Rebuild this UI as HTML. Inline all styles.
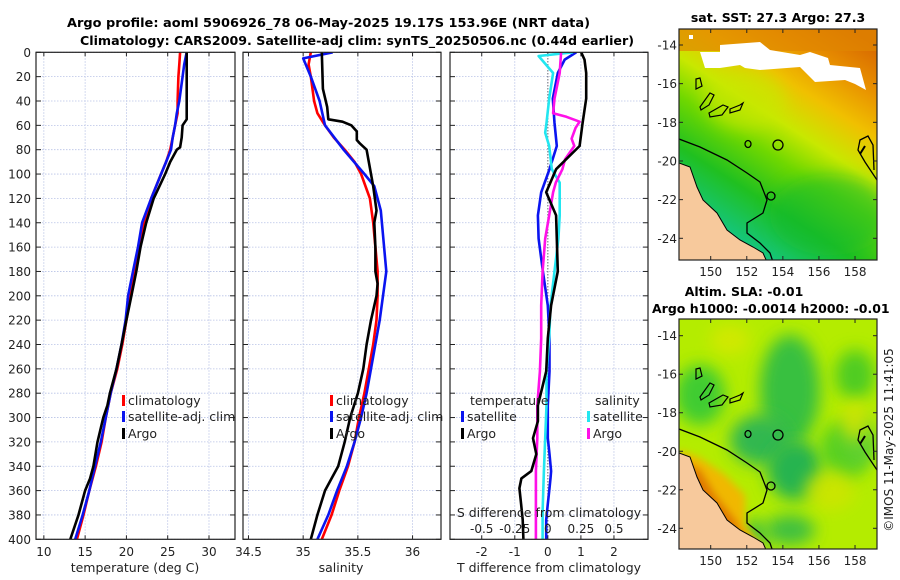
<!DOCTYPE html>
<html><head><meta charset="utf-8"><style>
html,body{margin:0;padding:0;background:#fff;}
svg{display:block;font-family:"DejaVu Sans","Liberation Sans",sans-serif;}
</style></head><body>
<svg id="fig" width="900" height="580" viewBox="0 0 900 580" xmlns="http://www.w3.org/2000/svg">
<defs>
 <linearGradient id="sstg" x1="0.85" y1="0" x2="0.3" y2="1">
  <stop offset="0" stop-color="#d86a00"/>
  <stop offset="0.15" stop-color="#e89000"/>
  <stop offset="0.3" stop-color="#f0c000"/>
  <stop offset="0.45" stop-color="#c8e800"/>
  <stop offset="0.58" stop-color="#70d800"/>
  <stop offset="0.75" stop-color="#20c020"/>
  <stop offset="1" stop-color="#10c8a0"/>
 </linearGradient>
 <filter id="blur8" x="-50%" y="-50%" width="200%" height="200%"><feGaussianBlur stdDeviation="8"/></filter>
 <filter id="blur4" x="-50%" y="-50%" width="200%" height="200%"><feGaussianBlur stdDeviation="4"/></filter>
 <clipPath id="c1"><rect x="679" y="29" width="198" height="231"/></clipPath>
 <clipPath id="c2"><rect x="679" y="319" width="198" height="230"/></clipPath>
 <clipPath id="p1"><rect x="36" y="52" width="199" height="487"/></clipPath>
 <clipPath id="p2"><rect x="243" y="52" width="198" height="487"/></clipPath>
 <clipPath id="p3"><rect x="450" y="52" width="198" height="487"/></clipPath>
</defs>
<text x="67" y="27" textLength="523" lengthAdjust="spacingAndGlyphs" font-size="12.5" font-weight="bold">Argo profile: aoml 5906926_78 06-May-2025 19.17S 153.96E (NRT data)</text>
<text x="80" y="45" textLength="554" lengthAdjust="spacingAndGlyphs" font-size="12.5" font-weight="bold">Climatology: CARS2009. Satellite-adj clim: synTS_20250506.nc (0.44d earlier)</text>
<g id="panels"></g>
<g id="maps"></g>
<text transform="translate(893,440) rotate(-90)" text-anchor="middle" font-size="12" fill="#222">©IMOS 11-May-2025 11:41:05</text>
</svg>
<script>
// ---- data (depth m) ----
const depths = [0,10,20,40,50,60,70,80,90,100,120,140,160,180,200,220,240,260,280,300,320,340,360,380,400];
const tempClim = [26.5,26.4,26.3,26.2,26.2,25.9,25.6,25.3,24.8,24.2,23.0,22.1,21.6,21.0,20.5,20.0,19.5,18.9,18.1,17.5,17.0,16.3,15.5,14.8,14.0];
const tempSat  = [27.3,27.0,26.8,26.4,26.1,25.9,25.6,25.4,24.8,24.2,23.0,21.9,21.4,20.8,20.2,19.9,19.4,18.8,18.1,17.5,16.9,16.2,15.5,14.7,13.8];
const argoDepths = [0,20,40,55,60,70,78,80,90,100,120,140,160,180,200,220,240,260,280,290,300,320,340,350,360,380,400];
const tempArgo = [27.3,27.3,27.3,27.3,26.8,26.7,26.5,26.1,25.3,24.7,23.3,22.4,21.7,21.2,20.6,20.0,19.4,18.8,18.0,17.7,17.2,16.5,16.0,15.6,15.0,14.2,13.2];
const salClim = [35.07,35.05,35.07,35.10,35.13,35.20,35.28,35.38,35.47,35.53,35.61,35.64,35.66,35.68,35.68,35.67,35.64,35.60,35.56,35.51,35.47,35.41,35.33,35.26,35.17];
const salSatDepths = [0,5,20,40,60,80,100,110,130,160,180,200,220,260,280,300,320,340,360,380,400];
const salSat = [35.27,35.00,35.07,35.15,35.20,35.37,35.56,35.65,35.71,35.74,35.76,35.73,35.70,35.62,35.58,35.53,35.47,35.40,35.31,35.23,35.13];
const salArgoDepths = [0,30,45,55,57,60,65,72,75,80,90,100,110,130,140,160,180,190,200,220,240,260,280,300,320,340,350,360,380,400];
const salArgo = [35.17,35.18,35.22,35.23,35.36,35.44,35.49,35.49,35.52,35.58,35.60,35.62,35.64,35.67,35.65,35.66,35.66,35.68,35.67,35.62,35.58,35.55,35.50,35.43,35.38,35.32,35.26,35.20,35.13,35.07];
const diffDepths = [0,6,17,38,58,77,96,115,134,153,180,208,235,262,290,303,317,330,344,350,358,371,384,400];
const tDiffSat  = [0.86,0.51,0.30,0.15,0.20,0.27,0.05,-0.20,-0.30,-0.28,-0.15,0.00,0.05,0.05,0.00,0.00,0.00,0.05,0.10,0.08,0.05,0.00,-0.05,-0.05];
const tDiffArgo = [1.01,1.11,1.16,1.16,1.05,0.96,0.25,-0.05,0.25,0.27,0.30,0.10,0.00,-0.05,-0.30,-0.30,-0.45,-0.35,-0.50,-0.80,-0.86,-0.81,-0.76,-0.74];
const sDiffDepthsSat = [0,3,17,38,58,66,77,96,107,115,134,153,180,208,235,262,290,317,344,377,400];
const sDiffSat = [0.19,-0.07,0.04,0.01,-0.01,-0.02,0.01,0.03,0.09,0.09,0.09,0.08,0.05,0.02,0.01,-0.01,-0.01,-0.02,-0.03,-0.04,-0.04];
const sDiffArgoDepths = [0,17,38,50,53,57,62,71,77,88,96,107,115,134,153,180,208,235,262,290,317,344,377,400];
const sDiffArgo = [0.10,0.09,0.05,0.04,0.14,0.24,0.21,0.18,0.20,0.13,0.11,0.06,0.04,0.01,-0.02,-0.04,-0.05,-0.05,-0.06,-0.08,-0.08,-0.09,-0.09,-0.09];
const depthTicks = [0,20,40,60,80,100,120,140,160,180,200,220,240,260,280,300,320,340,360,380,400];
const tempTicks = [10,15,20,25,30];
const salTicks = [34.5,35,35.5,36];
const tDiffTicks = [-2,-1,0,1,2];
const sDiffTicks = [-0.5,-0.25,0,0.25,0.5];

const NS='http://www.w3.org/2000/svg';
const gP=document.getElementById('panels');
function el(tag,attrs,parent,txt){const e=document.createElementNS(NS,tag);for(const k in attrs)e.setAttribute(k,attrs[k]);if(txt!==undefined)e.textContent=txt;(parent||gP).appendChild(e);return e;}
const TOP=52.3,BOT=539.3;
const yD=d=>TOP+(d/400)*(BOT-TOP);
const panels=[
 {x0:36,x1:235,lo:9.05,hi:33.15,ticks:tempTicks,fmt:v=>String(v),name:'temperature-panel'},
 {x0:243,x1:441,lo:34.45,hi:36.26,ticks:salTicks,fmt:v=>String(v),name:'salinity-panel'},
 {x0:450,x1:648,lo:-2.96,hi:3.03,ticks:tDiffTicks,fmt:v=>String(v),name:'difference-panel'}
];
panels.forEach((p,i)=>{p.sx=v=>p.x0+(v-p.lo)/(p.hi-p.lo)*(p.x1-p.x0);});
function line(ds,vs,sx,color,clip,name,w){
 const pts=ds.map((d,i)=>sx(vs[i]).toFixed(1)+','+yD(d).toFixed(1)).join(' ');
 const e=el('polyline',{points:pts,fill:'none',stroke:color,'stroke-width':w||2.6,'stroke-linejoin':'round','clip-path':'url(#'+clip+')'});
 
 
}
panels.forEach((p,i)=>{
 const g=el('g',{});
 
 
 el('rect',{x:p.x0,y:TOP,width:p.x1-p.x0,height:BOT-TOP,fill:'#fff'},g);
 p.ticks.forEach(t=>{const x=p.sx(t);
  el('line',{x1:x,x2:x,y1:TOP,y2:BOT,stroke:'#b8c2e6','stroke-width':0.8,'stroke-dasharray':'1.5,1.5'},g);
  el('line',{x1:x,x2:x,y1:BOT,y2:BOT-4,stroke:'#222'},g);
  el('line',{x1:x,x2:x,y1:TOP,y2:TOP+4,stroke:'#222'},g);
  const lt=el('text',{x:x,y:556,'text-anchor':'middle','font-size':12,fill:'#222'},g,p.fmt(t));
  
  
 });
 depthTicks.forEach(d=>{const y=yD(d);
  el('line',{x1:p.x0,x2:p.x1,y1:y,y2:y,stroke:'#b8c2e6','stroke-width':0.8,'stroke-dasharray':'1.5,1.5'},g);
  el('line',{x1:p.x0,x2:p.x0+5,y1:y,y2:y,stroke:'#222'},g);
  el('line',{x1:p.x1,x2:p.x1-5,y1:y,y2:y,stroke:'#222'},g);
  if(i===0){const lt=el('text',{x:31,y:y+4.5,'text-anchor':'end','font-size':12,fill:'#222'},g,String(d));
   
   }
 });
});
const P1=panels[0],P2=panels[1],P3=panels[2];
line(depths,tempClim,P1.sx,'#ff0000','p1','temp-climatology-line');
line(depths,tempSat,P1.sx,'#0a14f0','p1','temp-satellite-line');
line(argoDepths,tempArgo,P1.sx,'#000','p1','temp-argo-line');
line(depths,salClim,P2.sx,'#ff0000','p2','sal-climatology-line');
line(salSatDepths,salSat,P2.sx,'#0a14f0','p2','sal-satellite-line');
line(salArgoDepths,salArgo,P2.sx,'#000','p2','sal-argo-line');
el('line',{x1:P3.sx(0),x2:P3.sx(0),y1:TOP,y2:BOT,stroke:'#444','stroke-width':1,'stroke-dasharray':'1,2'});
const sS=v=>P3.sx(v*4);
line(diffDepths,tDiffSat,P3.sx,'#0a14f0','p3','t-diff-satellite-line');
line(sDiffDepthsSat,sDiffSat,sS,'#22e6f0','p3','s-diff-satellite-line');
line(sDiffArgoDepths,sDiffArgo,sS,'#ff10e8','p3','s-diff-argo-line');
line(diffDepths,tDiffArgo,P3.sx,'#000','p3','t-diff-argo-line');
panels.forEach(p=>{el('rect',{x:p.x0,y:TOP,width:p.x1-p.x0,height:BOT-TOP,fill:'none',stroke:'#222','stroke-width':1.2});});
[['temperature (deg C)',135,'temperature-axis-title'],['salinity',341,'salinity-axis-title'],['T difference from climatology',549,'t-diff-axis-title']].forEach(a=>{
 const t=el('text',{x:a[1],y:572,'text-anchor':'middle','font-size':12.5,fill:'#222'},gP,a[0]);
 
 
});
let sd=el('text',{x:549,y:517,'text-anchor':'middle','font-size':12.5,fill:'#222'},gP,'S difference from climatology');


sDiffTicks.forEach(t=>{const lt=el('text',{x:sS(t),y:533,'text-anchor':'middle','font-size':12,fill:'#222'},gP,String(t));
 
 });
function legend(x,y,color,label,name){
 const g=el('g',{});
 
 
 el('rect',{x:x,y:y-10,width:3,height:11,fill:color},g);
 el('text',{x:x+6,y:y,'font-size':12.5,fill:'#222'},g,label);
}
legend(122,405,'#ff0000','climatology','legend-climatology');
legend(122,421,'#0a14f0','satellite-adj. clim','legend-satellite-adj');
legend(122,438,'#000','Argo','legend-argo');
legend(330,405,'#ff0000','climatology','legend-climatology-2');
legend(330,421,'#0a14f0','satellite-adj. clim','legend-satellite-adj-2');
legend(330,438,'#000','Argo','legend-argo-2');
let lt1=el('text',{x:470,y:405,'font-size':12.5,fill:'#222'},gP,'temperature');


let lt2=el('text',{x:595,y:405,'font-size':12.5,fill:'#222'},gP,'salinity');


legend(461,421,'#0a14f0','satellite','legend-t-satellite');
legend(461,438,'#000','Argo','legend-t-argo');
legend(587,421,'#22e6f0','satellite','legend-s-satellite');
legend(587,438,'#ff10e8','Argo','legend-s-argo');

// ---- maps ----
const gM=document.getElementById('maps');
const lonTicks=[150,152,154,156,158];
const latTicks=[-14,-16,-18,-20,-22,-24];
function mapAxes(top,bot,lat14,lat24,name){
 const g=el('g',{},gM);
 
 
 el('rect',{x:679,y:top,width:198,height:bot-top,fill:'none',stroke:'#222','stroke-width':1.2},g);
 latTicks.forEach(l=>{const y=lat14+(l+14)/(-10)*(lat24-lat14);
  el('line',{x1:679,x2:683,y1:y,y2:y,stroke:'#222'},g);el('line',{x1:873,x2:877,y1:y,y2:y,stroke:'#222'},g);
  el('text',{x:677,y:y+4.5,'text-anchor':'end','font-size':12,fill:'#222'},g,String(l));});
 lonTicks.forEach(l=>{const x=710.7+(l-150)*18.04;
  el('line',{x1:x,x2:x,y1:bot,y2:bot-4,stroke:'#222'},g);el('line',{x1:x,x2:x,y1:top,y2:top+4,stroke:'#222'},g);
  el('text',{x:x,y:bot+16,'text-anchor':'middle','font-size':12,fill:'#222'},g,String(l));});
}
function coast(g,dy){
 const land='679,'+(163+dy)+' 690,'+(167+dy)+' 697,'+(187+dy)+' 703,'+(200+dy)+' 717,'+(213+dy)+' 727,'+(230+dy)+' 740,'+(240+dy)+' 753,'+(247+dy)+' 763,'+(253+dy)+' 767,'+(262+dy)+' 679,'+(262+dy);
 el('polygon',{points:land,fill:'#f7c99c',stroke:'#000','stroke-width':1},g);
 const iso='679,'+(139+dy)+' 700,'+(147+dy)+' 727,'+(160+dy)+' 747,'+(173+dy)+' 760,'+(182+dy)+' 767,'+(200+dy)+' 763,'+(213+dy)+' 747,'+(223+dy)+' 747,'+(233+dy)+' 760,'+(243+dy)+' 770,'+(253+dy)+' 773,'+(262+dy);
 el('polyline',{points:iso,fill:'none',stroke:'#000','stroke-width':1.3},g);
 const reef='877,'+(180+dy)+' 865,'+(162+dy)+' 858,'+(150+dy)+' 860,'+(140+dy)+' 868,'+(136+dy)+' 873,'+(145+dy)+' 874,'+(170+dy);
 el('polyline',{points:reef,fill:'none',stroke:'#000','stroke-width':1.3},g);
 el('circle',{cx:778,cy:145+dy,r:5,fill:'none',stroke:'#000','stroke-width':1.3},g);
 el('ellipse',{cx:748,cy:144+dy,rx:3,ry:3.5,fill:'none',stroke:'#000','stroke-width':1.3},g);
 el('ellipse',{cx:771,cy:196+dy,rx:4,ry:4,fill:'none',stroke:'#000','stroke-width':1.3},g);
 el('path',{d:'M696 '+(79+dy)+' l4 -1 l2 8 l-6 3 z',fill:'none',stroke:'#000','stroke-width':1.2},g);
 el('path',{d:'M700 '+(107+dy)+' l10 -14 l4 2 l-5 10 l-8 5 z',fill:'none',stroke:'#000','stroke-width':1.2},g);
 el('path',{d:'M709 '+(113+dy)+' l14 -8 l5 2 l-6 8 l-12 2 z',fill:'none',stroke:'#000','stroke-width':1.2},g);
 el('path',{d:'M730 '+(109+dy)+' l10 -4 l3 -2 l-3 7 l-10 3 z',fill:'none',stroke:'#000','stroke-width':1.2},g);
 el('path',{d:'M860 '+(154+dy)+' l5 -8',fill:'none',stroke:'#000','stroke-width':2},g);
}
// SST map
const m1=el('g',{'clip-path':'url(#c1)'},gM);


el('rect',{x:679,y:29,width:198,height:231,fill:'url(#sstg)'},m1);
el('rect',{x:679,y:29,width:198,height:22,fill:'#e08600',opacity:0.7},m1);
el('ellipse',{cx:745,cy:100,rx:40,ry:30,fill:'#c8e800',opacity:0.6,filter:'url(#blur8)'},m1);
el('ellipse',{cx:830,cy:215,rx:60,ry:40,fill:'#10b830',opacity:0.5,filter:'url(#blur8)'},m1);
el('polygon',{points:'700,52 720,52 720,45 760,42 770,50 800,55 810,52 828,58 830,65 860,68 866,90 855,84 845,80 815,82 800,67 760,70 745,68 740,65 720,68 705,68',fill:'#fff'},m1);
el('rect',{x:689,y:35,width:4,height:4,fill:'#fff'},m1);
el('rect',{x:769,y:60,width:5,height:5,fill:'#fff'},m1);
coast(m1,0);
mapAxes(29,260,45,238.3,'sst-map');
let t1=el('text',{x:778,y:22,'text-anchor':'middle','font-size':12.5,'font-weight':'bold'},gM,'sat. SST: 27.3 Argo: 27.3');


// SLA map
const m2=el('g',{'clip-path':'url(#c2)'},gM);


el('rect',{x:679,y:319,width:198,height:230,fill:'#b4ec00'},m2);
[[700,395,25,30,'#40cc30'],[790,390,30,55,'#38c040'],[760,440,30,25,'#30b850'],[795,470,28,30,'#28b450'],[855,375,20,25,'#50cc20'],[845,450,25,30,'#58d020'],[790,530,25,15,'#40c040'],[755,535,12,15,'#40c040'],[860,440,15,25,'#60d030']].forEach(b=>{
 el('ellipse',{cx:b[0],cy:b[1],rx:b[2],ry:b[3],fill:b[4],filter:'url(#blur8)'},m2);});
[[730,340,20,15,'#d8e800'],[830,490,25,20,'#d0e400'],[855,420,15,20,'#d8e600']].forEach(b=>{
 el('ellipse',{cx:b[0],cy:b[1],rx:b[2],ry:b[3],fill:b[4],filter:'url(#blur8)',opacity:0.8},m2);});
el('polygon',{points:'679,450 700,458 725,475 745,495 745,525 765,549 679,549',fill:'#f0b800',filter:'url(#blur4)'},m2);
el('polygon',{points:'679,460 700,470 715,495 735,520 750,549 679,549',fill:'#e07800',filter:'url(#blur4)'},m2);
coast(m2,290);
mapAxes(319,549,335.7,528.3,'sla-map');
let t2=el('text',{x:744,y:296,'text-anchor':'middle','font-size':12.5,'font-weight':'bold'},gM,'Altim. SLA: -0.01');


let t3=el('text',{x:652,y:313,'font-size':12.5,'font-weight':'bold'},gM,'Argo h1000: -0.0014 h2000: -0.01');


</script>
</body></html>
